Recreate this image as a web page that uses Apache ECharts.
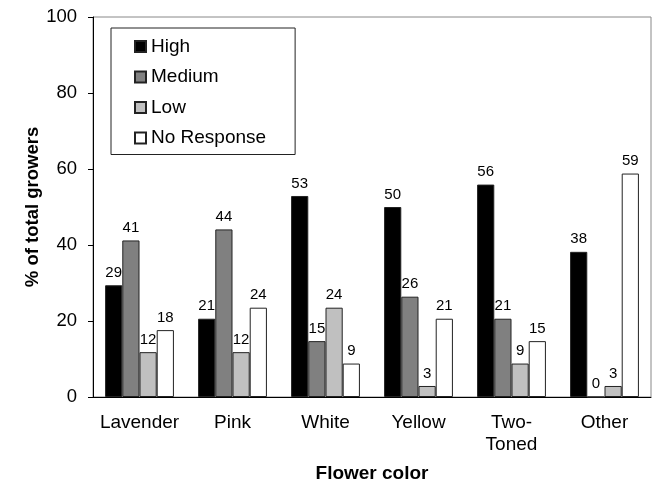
<!DOCTYPE html>
<html>
<head>
<meta charset="utf-8">
<script src="https://cdn.jsdelivr.net/npm/echarts@6/dist/echarts.min.js"></script>
<style>html,body{margin:0;padding:0;background:#fff;}#c{width:656px;height:483px;}</style>
</head>
<body>
<div id="c"></div>
<script>
const categories = ['Lavender', 'Pink', 'White', 'Yellow', 'Two-\nToned', 'Other'];
const seriesNames = ['High', 'Medium', 'Low', 'No Response'];
const high = [29.4, 20.6, 52.9, 50.0, 55.9, 38.2];
const medium = [41.2, 44.1, 14.7, 26.4, 20.6, 0];
const low = [11.8, 11.8, 23.5, 2.9, 8.8, 2.9];
const noResponse = [17.6, 23.5, 8.8, 20.6, 14.7, 58.8];
const yTicks = [0, 20, 40, 60, 80, 100];

const FONT = '"Liberation Sans", Arial, sans-serif';
const colors = ['#000000', '#808080', '#c0c0c0', '#ffffff'];
const values = [high, medium, low, noResponse];

const chart = echarts.init(document.getElementById('c'), null, {renderer: 'canvas'});
chart.setOption({
  animation: false,
  backgroundColor: '#fff',
  textStyle: {fontFamily: FONT},
  grid: {left: 93, right: 5, top: 17, bottom: 86, show: true, borderColor: '#888', borderWidth: 1,
    backgroundColor: 'transparent', containLabel: false, outerBoundsMode: 'none'},
  legend: {
    orient: 'vertical', left: 111, top: 28,
    padding: [9, 29, 7, 23],
    itemWidth: 11, itemHeight: 11, itemGap: 11.5,
    borderColor: '#222', borderWidth: 1,
    icon: 'rect',
    textStyle: {fontSize: 19, color: '#000', fontFamily: FONT, lineHeight: 18},
    data: seriesNames
  },
  xAxis: {
    type: 'category',
    data: categories,
    name: 'Flower color',
    nameLocation: 'middle',
    nameGap: 67,
    nameMoveOverlap: false,
    nameTextStyle: {fontSize: 19, fontWeight: 'bold', color: '#000', fontFamily: FONT},
    axisLine: {lineStyle: {color: '#000', width: 1}},
    axisTick: {length: 5, lineStyle: {color: '#000'}},
    axisLabel: {fontSize: 19, color: '#000', margin: 15, lineHeight: 22, fontFamily: FONT, interval: 0}
  },
  yAxis: {
    type: 'value',
    min: 0, max: 100, interval: 20,
    name: '% of total growers',
    nameLocation: 'middle',
    nameGap: 51,
    nameMoveOverlap: false,
    nameTextStyle: {fontSize: 18.5, fontWeight: 'bold', color: '#000', fontFamily: FONT},
    splitLine: {show: false},
    axisLine: {show: true, lineStyle: {color: '#000', width: 1}},
    axisTick: {show: true, length: 5, lineStyle: {color: '#000'}},
    axisLabel: {fontSize: 18.5, color: '#000', margin: 16, fontFamily: FONT,
      formatter: v => yTicks.includes(v) ? String(v) : ''}
  },
  series: seriesNames.map((name, i) => ({
    name: name,
    type: 'bar',
    data: values[i],
    barGap: '0%',
    barCategoryGap: '26%',
    itemStyle: {color: colors[i], borderColor: '#222', borderWidth: 1},
    label: {show: true, position: 'top', distance: 5, fontSize: 15, color: '#000', fontFamily: FONT,
      formatter: p => String(Math.round(p.value))}
  }))
});
</script>
</body>
</html>
